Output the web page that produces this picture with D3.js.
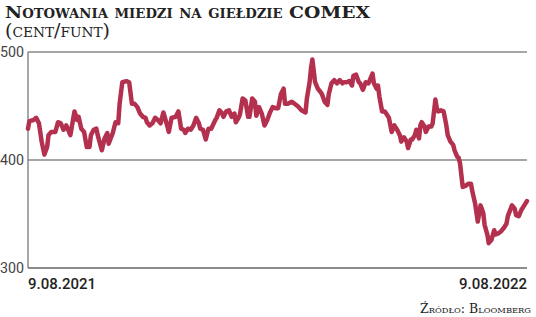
<!DOCTYPE html>
<html>
<head>
<meta charset="utf-8">
<script src="https://cdn.jsdelivr.net/npm/d3@7"></script>
<style>
  body { margin: 0; background: #fff; }
  svg { display: block; }
</style>
</head>
<body>
<script>
// Dni od 9.08.2021 i notowania (cent/funt).
const dni = [0, 1, 4, 6, 8, 10, 12, 14, 15, 17, 20, 22, 24, 26, 28, 29, 31, 34, 36, 37,
  39, 41, 43, 45, 46, 48, 50, 51, 54, 56, 58, 59, 62, 64, 66, 67, 69, 72, 74, 76,
  78, 80, 82, 84, 86, 87, 89, 91, 93, 95, 97, 99, 100, 102, 103, 105, 108, 110, 112, 114,
  115, 117, 119, 121, 123, 125, 126, 128, 130, 132, 134, 137, 138, 140, 142, 143, 145, 147, 149, 151,
  152, 154, 155, 157, 159, 161, 162, 164, 166, 167, 169, 171, 173, 175, 177, 179, 181, 183, 185, 187,
  188, 190, 193, 195, 198, 200, 203, 204, 206, 207, 208, 210, 212, 214, 215, 217, 219, 220, 222, 224,
  226, 228, 230, 231, 233, 235, 237, 238, 240, 242, 243, 245, 247, 249, 250, 252, 253, 255, 256, 257,
  259, 261, 262, 264, 266, 268, 270, 272, 273, 275, 277, 278, 280, 281, 283, 284, 286, 287, 288, 290,
  291, 293, 295, 296, 298, 299, 300, 302, 304, 306, 307, 309, 311, 312, 314, 315, 316, 317, 318, 320,
  322, 324, 325, 327, 329, 331, 333, 334, 336, 337, 339, 341, 342, 344, 346, 348, 350, 351, 354, 356,
  357, 359, 361, 363, 365];
const notowania = [429, 436, 437, 439, 434, 417, 405, 412, 423, 426, 426, 435, 434, 428, 432, 429, 423, 445, 437, 440,
  429, 426, 412, 412, 423, 428, 429, 423, 409, 420, 425, 415, 425, 435, 434, 452, 472, 473, 472, 452,
  452, 449, 443, 440, 439, 435, 432, 434, 439, 437, 434, 444, 440, 431, 426, 439, 440, 445, 429, 428,
  425, 429, 428, 432, 439, 434, 429, 428, 419, 429, 429, 437, 439, 446, 443, 440, 445, 446, 440, 443,
  435, 439, 442, 457, 455, 440, 440, 457, 454, 441, 449, 443, 432, 437, 444, 449, 448, 448, 461, 466,
  452, 452, 454, 452, 449, 446, 444, 457, 472, 485, 493, 472, 466, 463, 461, 454, 451, 461, 471, 474,
  471, 474, 471, 472, 472, 473, 469, 478, 479, 472, 471, 465, 472, 471, 474, 480, 471, 466, 469, 459,
  445, 445, 443, 439, 426, 432, 428, 423, 417, 421, 417, 411, 419, 419, 423, 428, 420, 432, 435, 431,
  426, 431, 431, 434, 456, 448, 445, 446, 445, 432, 423, 417, 414, 409, 403, 402, 397, 386, 375, 376,
  378, 378, 371, 360, 343, 358, 351, 340, 331, 323, 326, 335, 331, 332, 334, 337, 341, 348, 358, 355,
  349, 348, 354, 358, 362];
const poczatek = new Date(2021, 7, 9);
const koniec = new Date(2022, 7, 9);
const yTicks = [300, 400, 500];
const etykietyDat = ["9.08.2021", "9.08.2022"];

const W = 536, H = 317;
const margin = {top: 52, right: 9, bottom: 49, left: 28};
const width = W - margin.left - margin.right,
      height = H - margin.top - margin.bottom;

const dane = dni.map((d, i) => ({data: d3.timeDay.offset(poczatek, d), v: notowania[i]}));

const svg = d3.select("body").append("svg")
    .attr("width", W)
    .attr("height", H);

// Tytuł
svg.append("text")
    .attr("x", 5).attr("y", 18)
    .attr("font-family", "'DejaVu Serif', serif")
    .attr("font-weight", "bold")
    .attr("font-size", 17)
    .attr("fill", "#222")
    .style("font-variant", "small-caps")
    .attr("textLength", 365)
    .attr("lengthAdjust", "spacingAndGlyphs")
    .text("Notowania miedzi na giełdzie COMEX");

svg.append("text")
    .attr("x", 5).attr("y", 37)
    .attr("font-family", "'DejaVu Serif', serif")
    .attr("font-size", 18)
    .attr("fill", "#222")
    .style("font-variant", "small-caps")
    .attr("textLength", 105)
    .attr("lengthAdjust", "spacingAndGlyphs")
    .text("(cent/funt)");

const g = svg.append("g")
    .attr("transform", `translate(${margin.left},${margin.top})`);

const x = d3.scaleTime()
    .domain([poczatek, koniec])
    .range([0, width]);

const y = d3.scaleLinear()
    .domain([300, 500])
    .range([height, 0]);

// Linie siatki
g.selectAll(".grid")
    .data(yTicks)
    .join("line")
    .attr("x1", 0).attr("x2", width)
    .attr("y1", d => y(d)).attr("y2", d => y(d))
    .attr("stroke", d => d === 300 ? "#666" : "#888")
    .attr("stroke-width", d => d === 300 ? 1.6 : 1.3);

g.append("line")
    .attr("x1", 0).attr("x2", 0)
    .attr("y1", y(500)).attr("y2", y(300))
    .attr("stroke", "#777")
    .attr("stroke-width", 1.3);

// Etykiety osi Y
svg.selectAll(".ylab")
    .data(yTicks)
    .join("text")
    .attr("x", 24)
    .attr("y", d => margin.top + y(d) + 5)
    .attr("text-anchor", "end")
    .attr("font-family", "Roboto, sans-serif")
    .attr("font-size", 14)
    .attr("fill", "#444")
    .attr("textLength", 24)
    .attr("lengthAdjust", "spacingAndGlyphs")
    .text(d => d);

// Etykiety dat
svg.selectAll(".xlab")
    .data([poczatek, koniec])
    .join("text")
    .attr("x", d => margin.left + x(d))
    .attr("y", 289)
    .attr("text-anchor", (d, i) => i === 0 ? "start" : "end")
    .attr("font-family", "Roboto, sans-serif")
    .attr("font-weight", 500)
    .attr("font-size", 15)
    .attr("fill", "#222")
    .text((d, i) => etykietyDat[i]);

// Linia notowań
const linia = d3.line()
    .x(d => x(d.data))
    .y(d => y(d.v));

g.append("path")
    .datum(dane)
    .attr("d", linia)
    .attr("fill", "none")
    .attr("stroke", "#b3304f")
    .attr("stroke-width", 4.5)
    .attr("stroke-linejoin", "round")
    .attr("stroke-linecap", "round");

// Źródło
svg.append("text")
    .attr("x", 531).attr("y", 313)
    .attr("text-anchor", "end")
    .attr("font-family", "'DejaVu Serif', serif")
    .attr("font-size", 12)
    .attr("fill", "#222")
    .style("font-variant", "small-caps")
    .attr("textLength", 111)
    .attr("lengthAdjust", "spacingAndGlyphs")
    .text("Źródło: Bloomberg");
</script>
</body>
</html>
